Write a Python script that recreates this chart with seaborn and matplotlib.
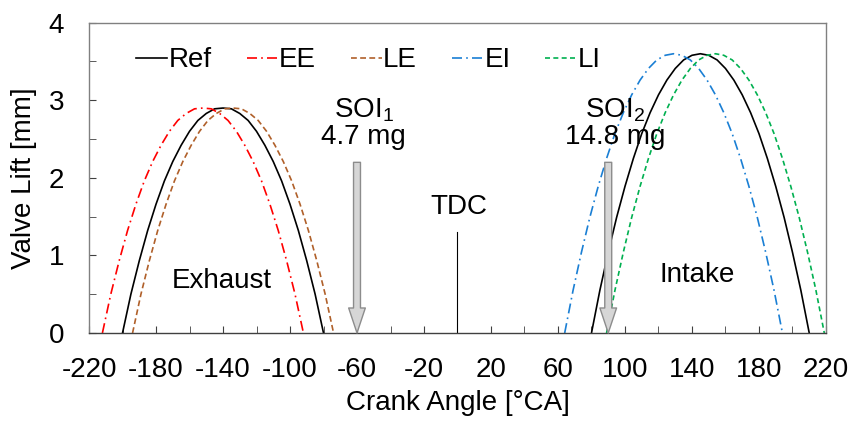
import numpy as np
import pandas as pd
import matplotlib
matplotlib.use("Agg")
import matplotlib.pyplot as plt
import seaborn as sns

# valve lift profiles (mm), sampled every 5 deg CA from valve opening
exh_lift = [0, 0.50, 0.93, 1.32, 1.66, 1.96, 2.21, 2.42, 2.60, 2.74, 2.83, 2.89, 2.90,
            2.89, 2.83, 2.74, 2.60, 2.42, 2.21, 1.96, 1.66, 1.32, 0.93, 0.50, 0]
int_lift = [0, 0.55, 1.04, 1.49, 1.89, 2.25, 2.57, 2.84, 3.07, 3.26, 3.41, 3.52, 3.58, 3.60,
            3.58, 3.52, 3.41, 3.26, 3.07, 2.84, 2.57, 2.25, 1.89, 1.49, 1.04, 0.55, 0]

# opening angles (deg CA) of each case
exh_open = {"Ref": -200, "EE": -212, "LE": -194}
int_open = {"Ref": 80, "EI": 64, "LI": 89}

cases = ["Ref", "EE", "LE", "EI", "LI"]
colors = {"Ref": "black", "EE": "#ff0000", "LE": "#b0602a", "EI": "#1a7fd4", "LI": "#00b050"}
styles = {"Ref": "-", "EE": (0, (6, 2.5, 1, 2.5)), "LE": (0, (3.5, 2)),
          "EI": (0, (6, 2.5, 1, 2.5)), "LI": (0, (3, 2))}

soi_angle = [-60, 90]
soi_mass = ["4.7 mg", "14.8 mg"]

plt.rcParams["font.family"] = ["Liberation Sans", "DejaVu Sans"]
plt.rcParams["mathtext.fontset"] = "custom"
plt.rcParams["mathtext.rm"] = "Liberation Sans"
plt.rcParams["axes.unicode_minus"] = False

FS = 20

fig = plt.figure(figsize=(8.51, 4.23), dpi=100)
ax = fig.add_axes([0.1046, 0.2128, 0.866, 0.7335])

done = set()
for opens, lift in [(exh_open, exh_lift), (int_open, int_lift)]:
    for name, start in opens.items():
        ang = start + 5 * np.arange(len(lift))
        sns.lineplot(x=ang, y=lift, ax=ax, color=colors[name], linestyle=styles[name], lw=1.2,
                     sort=False, estimator=None,
                     label=name if name not in done else None, legend=False)
        done.add(name)

# injection arrows
for a, m, n in zip(soi_angle, soi_mass, [1, 2]):
    ax.annotate("", xy=(a, 0), xytext=(a, 2.2),
                arrowprops=dict(arrowstyle="simple,head_width=1.2,head_length=1.8,tail_width=0.5",
                                mutation_scale=10, fc="#d6d6d6", ec="#8c8c8c", lw=1,
                                shrinkA=0, shrinkB=0))
    ax.text(a + 4, 2.7, "SOI$_\\mathregular{%d}$\n%s" % (n, m), ha="center", va="center",
            fontsize=FS, linespacing=1.0)

ax.plot([0, 0], [0, 1.3], color="black", lw=0.8)
ax.text(1, 1.62, "TDC", ha="center", va="center", fontsize=FS)
ax.text(-141, 0.67, "Exhaust", ha="center", va="center", fontsize=FS)
ax.text(143, 0.75, "Intake", ha="center", va="center", fontsize=FS)

ax.set_xlim(-220, 220)
ax.set_ylim(0, 4)
ax.set_xticks(np.arange(-220, 221, 40))
ax.set_xticks(np.arange(-220, 221, 20), minor=True)
ax.set_yticks(np.arange(0, 4.1, 1))
ax.set_yticks(np.arange(0, 4.1, 0.5), minor=True)
ax.tick_params(which="both", direction="in", labelsize=FS, color="#404040", length=5)
ax.tick_params(axis="x", pad=17)
ax.tick_params(axis="y", pad=18)
for s in ax.spines.values():
    s.set_color("#808080")
    s.set_linewidth(1)
ax.spines["bottom"].set_color("#404040")

ax.set_xlabel("Crank Angle [°CA]", fontsize=FS, labelpad=5)
ax.set_ylabel("Valve Lift [mm]", fontsize=FS, labelpad=8)

handles, labels = ax.get_legend_handles_labels()
order = [labels.index(c) for c in cases]
ax.legend([handles[i] for i in order], cases, loc="center left", bbox_to_anchor=(0.064, 0.879),
          ncol=5, frameon=False, fontsize=FS, handlelength=1.12, handletextpad=0.05,
          columnspacing=1.25, borderaxespad=0, borderpad=0)

fig.savefig("out.png", dpi=100)
